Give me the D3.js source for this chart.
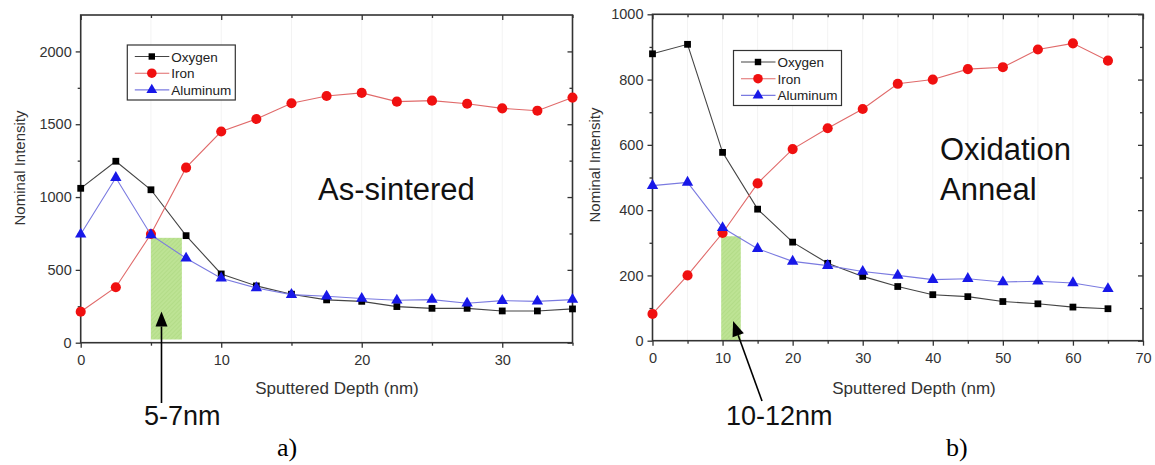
<!DOCTYPE html>
<html>
<head>
<meta charset="utf-8">
<script src="https://cdn.jsdelivr.net/npm/d3@7"></script>
<style>
  body { margin: 0; background: #fff; }
  svg { display: block; font-family: Arial, "Liberation Sans", sans-serif; }
</style>
</head>
<body>
<svg id="chart" width="1155" height="465"></svg>
<script>
// panel a) as-sintered
var depthA = [0, 2.5, 5, 7.5, 10, 12.5, 15, 17.5, 20, 22.5, 25, 27.5, 30, 32.5, 35];
var oxygenA = [1060, 1246, 1050, 735, 472, 390, 333, 294, 284, 248, 236, 236, 218, 218, 232];
var ironA = [213, 381, 746, 1202, 1450, 1536, 1644, 1694, 1715, 1655, 1662, 1641, 1609, 1593, 1683];
var aluminumA = [745, 1133, 740, 580, 443, 376, 330, 319, 303, 291, 296, 271, 289, 284, 296];

// panel b) oxidation anneal
var depthB = [0, 5, 10, 15, 20, 25, 30, 35, 40, 45, 50, 55, 60, 65];
var oxygenB = [879, 908, 577, 403, 302, 237, 197, 166, 141, 135, 120, 113, 103, 98];
var ironB = [82, 200, 330, 482, 587, 651, 710, 787, 800, 832, 838, 892, 911, 858];
var aluminumB = [475, 485, 346, 282, 243, 230, 212, 200, 187, 190, 180, 182, 177, 159];

var seriesNames = ["Oxygen", "Iron", "Aluminum"];
var ticksAX = [0, 10, 20, 30];
var ticksAY = [0, 500, 1000, 1500, 2000];
var ticksBX = [0, 10, 20, 30, 40, 50, 60, 70];
var ticksBY = [0, 200, 400, 600, 800, 1000];

// shaded interface band: [from, to, height]
var bandA = [5, 7.2, 720];
var bandB = [9.8, 12.6, 320];

var svg = d3.select("#chart");

var styles = {
  Oxygen: {line: "#444", fill: "#000", shape: d3.symbolSquare, size: 46},
  Iron: {line: "#e06a6a", fill: "#f01010", shape: d3.symbolCircle, size: 80},
  Aluminum: {line: "#7a7ae0", fill: "#1818e8", shape: d3.symbolTriangle, size: 56}
};

// light hatch for the band
var defs = svg.append("defs");
var pat = defs.append("pattern").attr("id", "hatch")
	.attr("width", 3).attr("height", 3)
	.attr("patternUnits", "userSpaceOnUse")
	.attr("patternTransform", "rotate(45)");
pat.append("rect").attr("width", 3).attr("height", 3).style("fill", "#bde394");
pat.append("line").attr("x1", 0).attr("y1", 0).attr("x2", 0).attr("y2", 3)
	.style("stroke", "#a9d67c").style("stroke-width", 1);

function drawPanel(p) {
	var x = d3.scaleLinear().domain(p.xDomain).range([p.left, p.right]);
	var y = d3.scaleLinear().domain(p.yDomain).range([p.bottom, p.top]);
	var g = svg.append("g");

	// faint grid
	g.selectAll(".grid").data(d3.range(p.xDomain[0], p.xDomain[1] + 0.01, p.xMinor))
		.enter().append("line")
		.attr("x1", function(d) { return x(d); }).attr("x2", function(d) { return x(d); })
		.attr("y1", p.top).attr("y2", p.bottom)
		.style("stroke", "#f3f3f3").style("stroke-width", 1);

	// green band
	g.append("rect")
		.attr("x", x(p.band[0]))
		.attr("width", x(p.band[1]) - x(p.band[0]))
		.attr("y", y(p.band[2]))
		.attr("height", y(p.yDomain[0] + p.bandBase) - y(p.band[2]))
		.style("fill", "url(#hatch)");

	// axes
	var bottom = d3.axisBottom(x).tickValues(p.xTicks).tickSize(5).tickPadding(7).tickFormat(d3.format("d"));
	var left = d3.axisLeft(y).tickValues(p.yTicks).tickSize(5).tickPadding(4).tickFormat(d3.format("d"));
	var top = d3.axisTop(x).tickValues(p.xTicks).tickSize(-5).tickFormat("");
	var right = d3.axisRight(y).tickValues(p.yTicks).tickSize(-5).tickFormat("");
	var xMinor = d3.range(p.xDomain[0] + p.xMinor, p.xDomain[1] + 0.01, p.xMinor * 2);
	var yMinor = d3.range(p.yDomain[0] + p.yMinor, p.yDomain[1], p.yMinor * 2);

	var axes = [
		[d3.axisBottom(x).tickValues(xMinor).tickSize(3).tickFormat(""), "translate(0," + p.bottom + ")"],
		[d3.axisTop(x).tickValues(xMinor).tickSize(-3).tickFormat(""), "translate(0," + p.top + ")"],
		[d3.axisLeft(y).tickValues(yMinor).tickSize(3).tickFormat(""), "translate(" + p.left + ",0)"],
		[d3.axisRight(y).tickValues(yMinor).tickSize(-3).tickFormat(""), "translate(" + p.right + ",0)"],
		[bottom, "translate(0," + p.bottom + ")"],
		[left, "translate(" + p.left + ",0)"],
		[top, "translate(0," + p.top + ")"],
		[right, "translate(" + p.right + ",0)"]
	];
	axes.forEach(function(a) {
		var ag = g.append("g").attr("transform", a[1]).call(a[0]);
		ag.select(".domain").remove();
		ag.selectAll("line").style("stroke", "#333").style("stroke-width", 1.3);
		ag.selectAll("text").style("font-size", "14.5px").style("fill", "#333")
			.style("font-family", "Arial, 'Liberation Sans', sans-serif");
	});

	// frame
	g.append("rect")
		.attr("x", p.left).attr("y", p.top)
		.attr("width", p.right - p.left).attr("height", p.bottom - p.top)
		.style("fill", "none").style("stroke", "#333").style("stroke-width", 1.6);

	// series
	p.series.forEach(function(vals, i) {
		var st = styles[seriesNames[i]];
		var pts = p.depth.map(function(d, j) { return [d, vals[j]]; });
		g.append("path")
			.datum(pts)
			.attr("d", d3.line().x(function(d) { return x(d[0]); }).y(function(d) { return y(d[1]); }))
			.style("fill", "none").style("stroke", st.line).style("stroke-width", 1.1);
		g.selectAll(".m" + i).data(pts).enter().append("path")
			.attr("d", d3.symbol().type(st.shape).size(st.size))
			.attr("transform", function(d) { return "translate(" + x(d[0]) + "," + y(d[1]) + ")"; })
			.style("fill", st.fill);
	});

	// legend
	var lg = g.append("g").attr("transform", "translate(" + p.legend[0] + "," + p.legend[1] + ")");
	lg.append("rect").attr("width", 108).attr("height", 55)
		.style("fill", "#fff").style("stroke", "#333").style("stroke-width", 1.2);
	seriesNames.forEach(function(name, i) {
		var st = styles[name];
		var cy = 11.5 + i * 16.7;
		lg.append("line").attr("x1", 7.5).attr("x2", 42).attr("y1", cy).attr("y2", cy)
			.style("stroke", st.line).style("stroke-width", 1.1);
		lg.append("path")
			.attr("d", d3.symbol().type(st.shape).size(st.size * 0.9))
			.attr("transform", "translate(24.5," + cy + ")")
			.style("fill", st.fill);
		lg.append("text").attr("x", 44).attr("y", cy + 5).text(name)
			.style("font-size", "13.5px").style("fill", "#222");
	});

	// axis titles
	g.append("text")
		.attr("transform", "translate(" + p.yTitleX + "," + p.yTitleY + ") rotate(-90)")
		.attr("text-anchor", "middle")
		.style("font-size", "15px").style("fill", "#333")
		.text("Nominal Intensity");
	g.append("text")
		.attr("x", p.xTitleX).attr("y", 394)
		.attr("text-anchor", "middle")
		.style("font-size", "17px").style("fill", "#333")
		.text("Sputtered Depth (nm)");

	// condition label
	p.title.forEach(function(t, i) {
		g.append("text").attr("x", p.titlePos[0]).attr("y", p.titlePos[1] + i * 40)
			.style("font-size", "31px").style("fill", "#111").text(t);
	});

	// arrow from annotation to the band
	var tip = [x(p.arrow[0]), y(p.arrow[1])];
	var tail = p.arrowTail;
	var ang = Math.atan2(tip[1] - tail[1], tip[0] - tail[0]);
	var hl = 15, hw = 6;
	var bx = tip[0] - hl * Math.cos(ang), by = tip[1] - hl * Math.sin(ang);
	g.append("line").attr("x1", tail[0]).attr("y1", tail[1]).attr("x2", bx).attr("y2", by)
		.style("stroke", "#000").style("stroke-width", 1.6);
	g.append("path")
		.attr("d", "M" + tip[0] + "," + tip[1] +
			"L" + (bx + hw * Math.sin(ang)) + "," + (by - hw * Math.cos(ang)) +
			"L" + (bx - hw * Math.sin(ang)) + "," + (by + hw * Math.cos(ang)) + "Z")
		.style("fill", "#000");
	g.append("text").attr("x", p.noteX).attr("y", 425)
		.style("font-size", "27px").style("fill", "#111").text(p.note);

	g.append("text").attr("x", p.capX).attr("y", 456)
		.style("font-family", "'Liberation Serif', 'Times New Roman', serif")
		.style("font-size", "26px").style("fill", "#000").text(p.caption);
}

drawPanel({
	left: 80.7, right: 572.5, top: 15, bottom: 342.7,
	xDomain: [0, 35], yDomain: [0, 2250], xMinor: 5, yMinor: 250,
	xTicks: ticksAX, yTicks: ticksAY,
	depth: depthA, series: [oxygenA, ironA, aluminumA],
	band: bandA, bandBase: 22,
	legend: [127.3, 45], yTitleX: 25, yTitleY: 168, xTitleX: 337,
	title: ["As-sintered"], titlePos: [318, 200],
	arrow: [5.75, 215], arrowTail: [161.5, 403],
	note: "5-7nm", noteX: 144, caption: "a)", capX: 277
});

drawPanel({
	left: 652.5, right: 1143, top: 14.3, bottom: 340.7,
	xDomain: [0, 70], yDomain: [0, 1000], xMinor: 5, yMinor: 100,
	xTicks: ticksBX, yTicks: ticksBY,
	depth: depthB, series: [oxygenB, ironB, aluminumB],
	band: bandB, bandBase: 0,
	legend: [733.5, 50.5], yTitleX: 600, yTitleY: 165, xTitleX: 914,
	title: ["Oxidation", "Anneal"], titlePos: [940, 160],
	arrow: [11.5, 60], arrowTail: [762, 401],
	note: "10-12nm", noteX: 726, caption: "b)", capX: 946
});
</script>
</body>
</html>
